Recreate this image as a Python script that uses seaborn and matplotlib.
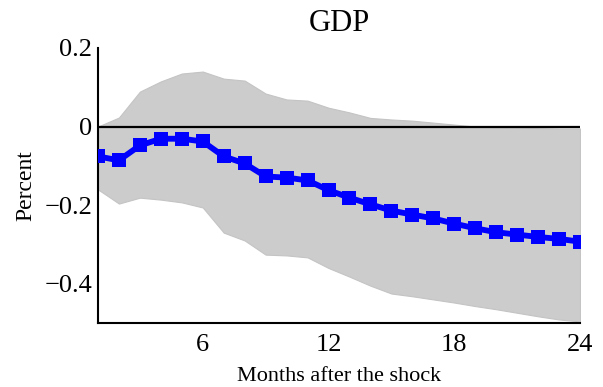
import matplotlib
matplotlib.use("Agg")
import matplotlib.pyplot as plt
import seaborn as sns
import pandas as pd

months = list(range(1, 25))
gdp = [-0.076, -0.086, -0.048, -0.031, -0.031, -0.038, -0.076, -0.094, -0.127, -0.130,
       -0.137, -0.162, -0.181, -0.198, -0.214, -0.224, -0.234, -0.247, -0.259, -0.269,
       -0.275, -0.281, -0.286, -0.293]
upper = [0.0, 0.023, 0.089, 0.115, 0.135, 0.140, 0.122, 0.117, 0.084, 0.069,
         0.066, 0.048, 0.036, 0.022, 0.018, 0.015, 0.010, 0.005, 0.0, -0.002,
         -0.003, -0.004, -0.005, -0.005]
lower = [-0.160, -0.196, -0.181, -0.186, -0.193, -0.206, -0.270, -0.290, -0.326, -0.328,
         -0.333, -0.360, -0.382, -0.405, -0.425, -0.432, -0.440, -0.448, -0.457, -0.465,
         -0.474, -0.483, -0.491, -0.496]
xticks = [6, 12, 18, 24]
yticks = [-0.4, -0.2, 0, 0.2]
ytick_labels = ["\u22120.4", "\u22120.2", "0", "0.2"]

sns.set_style("white")
plt.rcParams['font.family'] = ['Liberation Serif', 'DejaVu Serif']
plt.rcParams['text.color'] = 'black'
plt.rcParams['axes.labelcolor'] = 'black'

df = pd.DataFrame({"month": months, "gdp": gdp})

fig = plt.figure(figsize=(6.03, 3.87), dpi=100)
ax = fig.add_axes([0.1625, 0.1654, 0.7994, 0.7106])

ax.fill_between(months, lower, upper, color="#cccccc", linewidth=0.8, edgecolor="#c4c4c4", zorder=1)
ax.plot([months[0], months[-1]], [0, 0], color="black", linewidth=1.6, zorder=2)
sns.lineplot(data=df, x="month", y="gdp", ax=ax, color="#0000ff", linewidth=4.2,
             marker="s", markersize=10, markeredgewidth=0, zorder=3)

ax.set_xlim(1, 24)
ax.set_ylim(-0.5, 0.2)
ax.set_xticks(xticks)
ax.set_xticklabels([str(t) for t in xticks])
ax.set_yticks(yticks)
ax.set_yticklabels(ytick_labels)
ax.tick_params(direction="in", length=5, width=1.5, labelsize=19, colors="black",
               labelcolor="black")
ax.tick_params(axis="y", pad=4)
ax.tick_params(axis="x", pad=8)
for s in ["top", "right"]:
    ax.spines[s].set_visible(False)
for s in ["left", "bottom"]:
    ax.spines[s].set_linewidth(1.5)
    ax.spines[s].set_color("black")

ax.set_title("GDP", fontsize=22, pad=12, color="black")
ax.set_xlabel("Months after the shock", fontsize=16, labelpad=8, color="black")
ax.set_ylabel("Percent", fontsize=17, labelpad=6, color="black")

fig.savefig("out.png", dpi=100)
